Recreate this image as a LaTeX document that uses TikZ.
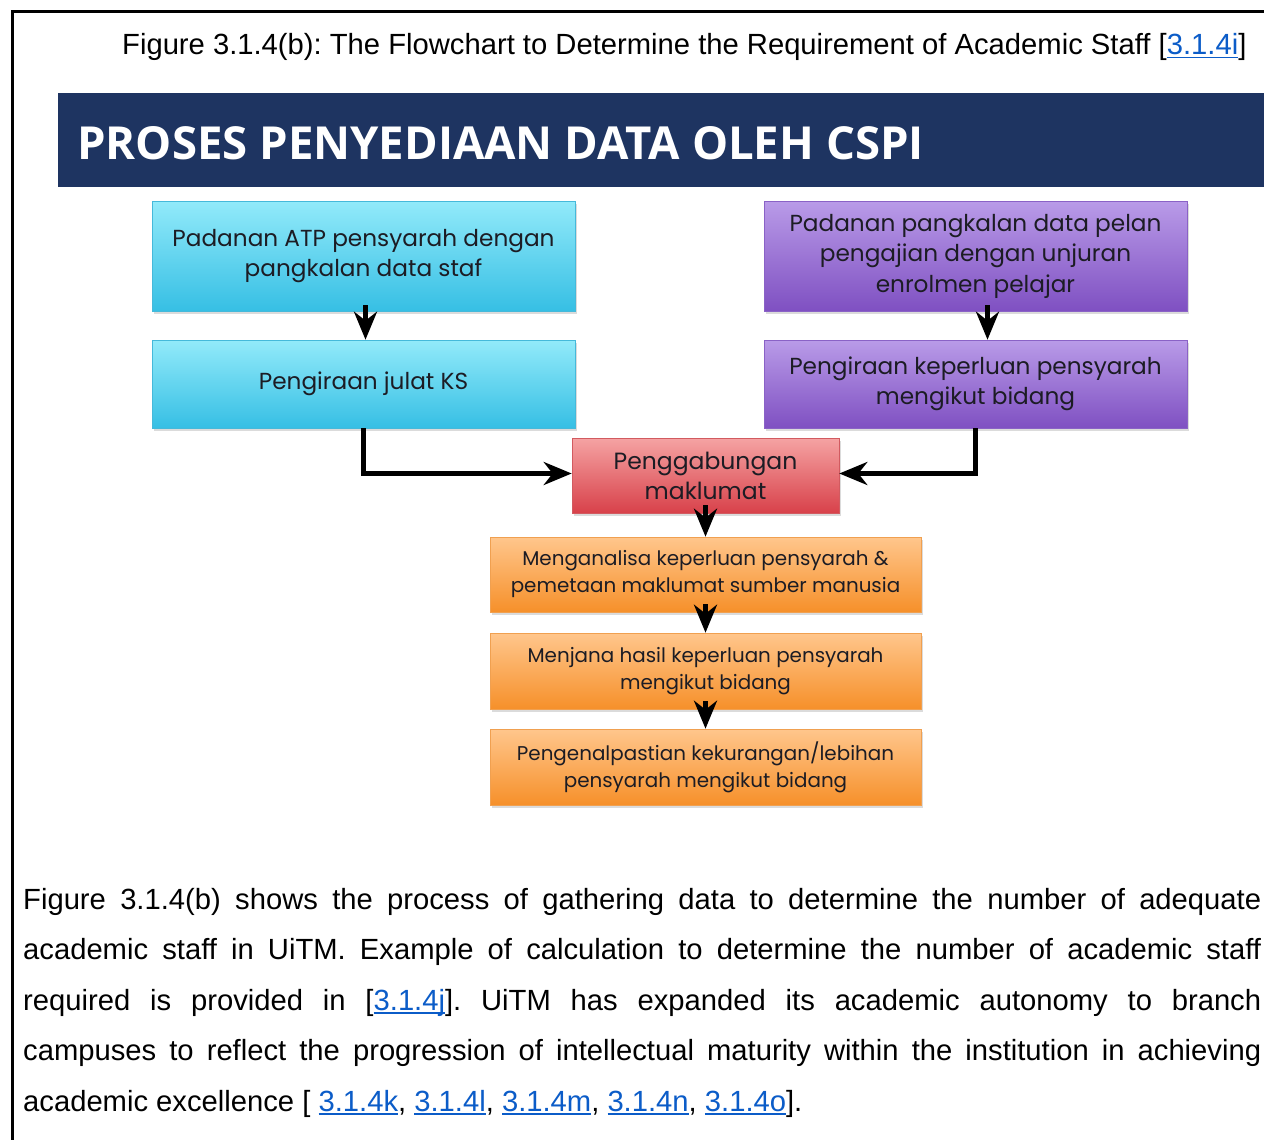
\documentclass[tikz,border=0pt]{standalone}
\usepackage{fontspec}
\setmainfont{Liberation Sans}
\newfontfamily\boxfont{Poppins}
\newfontfamily\titlefont{Open Sans}
\usetikzlibrary{arrows.meta,shadows}

\definecolor{navy}{HTML}{1E3461}
\definecolor{linkblue}{HTML}{0B5CC8}
\definecolor{cyTop}{HTML}{92EAFA}
\definecolor{cyBot}{HTML}{36BFE4}
\definecolor{cyEdge}{HTML}{45B9DA}
\definecolor{puTop}{HTML}{B99BE8}
\definecolor{puBot}{HTML}{7F50C2}
\definecolor{puEdge}{HTML}{8A62C6}
\definecolor{rdTop}{HTML}{F5A3A3}
\definecolor{rdBot}{HTML}{D8414A}
\definecolor{rdEdge}{HTML}{D25A60}
\definecolor{orTop}{HTML}{FFC68C}
\definecolor{orBot}{HTML}{F6902A}
\definecolor{orEdge}{HTML}{F0A050}
\definecolor{boxtext}{HTML}{1C1C24}

% underlined hyperlink-style reference
\newsavebox\lnkbox
\newcommand\lnk[1]{\textcolor{linkblue}{\sbox\lnkbox{#1}\rlap{\rule[-3.5pt]{\wd\lnkbox}{1.8pt}}\usebox\lnkbox}}

\tikzset{
  flow/.style={rectangle, inner sep=2pt, align=center, text=boxtext,
    font=\boxfont\fontsize{23.2}{30.5}\selectfont, line width=0.6pt,
    drop shadow={opacity=0.28, shadow xshift=2pt, shadow yshift=-3pt}},
  cyanbox/.style={flow, top color=cyTop, bottom color=cyBot, draw=cyEdge},
  purplebox/.style={flow, top color=puTop, bottom color=puBot, draw=puEdge},
  redbox/.style={flow, top color=rdTop, bottom color=rdBot, draw=rdEdge,
    font=\boxfont\fontsize{23.5}{30}\selectfont},
  orangebox/.style={flow, top color=orTop, bottom color=orBot, draw=orEdge,
    font=\boxfont\fontsize{19.9}{27}\selectfont},
  flowarrow/.style={line width=4.5pt, line join=miter,
    -{Stealth[length=28pt, width=23pt, inset=9pt]}},
  bodyline/.style={anchor=base west, inner sep=0pt,
    font=\fontsize{29.2}{34}\selectfont\frenchspacing},
}

\begin{document}
\begin{tikzpicture}[x=1pt, y=-1pt]
\useasboundingbox (0,0) rectangle (1264,1140);
\fill[white] (0,0) rectangle (1264,1140);

% page frame
\draw[line width=3pt] (12,1140) -- (12,12) -- (1264,12);

% caption
\node[bodyline] (caption) at (122,55)
  {Figure 3.1.4(b): The Flowchart to Determine the Requirement of Academic Staff [\lnk{3.1.4i}]};

% title bar
\fill[navy] (58,93) rectangle (1264,187);
\node[anchor=west, inner sep=0pt, text=white,
  font=\titlefont\bfseries\fontsize{45.5}{50}\selectfont] (title) at (77,143)
  {PROSES PENYEDIAAN DATA OLEH CSPI};

% process boxes
\node[cyanbox, minimum width=423pt, minimum height=110pt] (c1) at (363.5,256)
  {Padanan ATP pensyarah dengan\\pangkalan data staf};
\node[cyanbox, minimum width=423pt, minimum height=88pt] (c2) at (363.5,384)
  {Pengiraan julat KS};
\node[purplebox, minimum width=423pt, minimum height=110pt] (p1) at (975.5,256)
  {Padanan pangkalan data pelan\\pengajian dengan unjuran\\enrolmen pelajar};
\node[purplebox, minimum width=423pt, minimum height=88pt] (p2) at (975.5,384)
  {Pengiraan keperluan pensyarah\\mengikut bidang};
\node[redbox, minimum width=267pt, minimum height=75pt] (rd) at (705.5,475.5)
  {Penggabungan\\maklumat};
\node[orangebox, minimum width=431pt, minimum height=75pt] (o1) at (705.5,574.5)
  {Menganalisa keperluan pensyarah \&\\pemetaan maklumat sumber manusia};
\node[orangebox, minimum width=431pt, minimum height=76pt] (o2) at (705.5,671)
  {Menjana hasil keperluan pensyarah\\mengikut bidang};
\node[orangebox, minimum width=431pt, minimum height=76pt] (o3) at (705.5,767)
  {Pengenalpastian kekurangan/lebihan\\pensyarah mengikut bidang};

% connectors
\draw[flowarrow] ([xshift=2pt,yshift=6pt]c1.south) -- ([xshift=2pt]c2.north);
\draw[flowarrow] ([xshift=12pt,yshift=6pt]p1.south) -- ([xshift=12pt]p2.north);
\draw[flowarrow] (c2.south) |- ([yshift=2pt]rd.west);
\draw[flowarrow] (p2.south) |- ([yshift=2pt]rd.east);
\draw[flowarrow] ([yshift=8pt]rd.south) -- (o1.north);
\draw[flowarrow] ([yshift=8pt]o1.south) -- (o2.north);
\draw[flowarrow] ([yshift=8pt]o2.south) -- (o3.north);

% body text
\node[bodyline] (l1) at (23,909) {\makebox[1238pt][s]{Figure 3.1.4(b) shows the process of gathering data to determine the number of adequate}};
\node[bodyline] (l2) at (23,959) {\makebox[1238pt][s]{academic staff in UiTM. Example of calculation to determine the number of academic staff}};
\node[bodyline] (l3) at (23,1010) {\makebox[1238pt][s]{required is provided in [\lnk{3.1.4j}]. UiTM has expanded its academic autonomy to branch}};
\node[bodyline] (l4) at (23,1060) {\makebox[1238pt][s]{campuses to reflect the progression of intellectual maturity within the institution in achieving}};
\node[bodyline] (l5) at (23,1111) {academic excellence [ \lnk{3.1.4k}, \lnk{3.1.4l}, \lnk{3.1.4m}, \lnk{3.1.4n}, \lnk{3.1.4o}].};
\end{tikzpicture}
\end{document}
